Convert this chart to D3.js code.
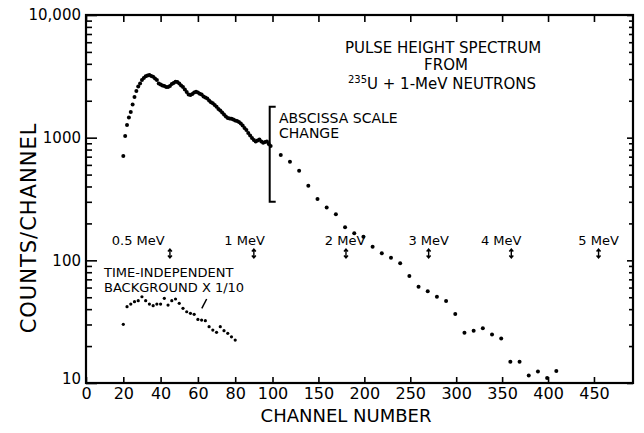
<!DOCTYPE html>
<html><head><meta charset="utf-8">
<script src="https://cdn.jsdelivr.net/npm/d3@7"></script>
<style>
body{margin:0;background:#fff}
svg{display:block;font-family:"DejaVu Sans",sans-serif}
</style></head><body>
<svg id="chart" width="644" height="433"></svg>
<script>
// ---- data ----
const spectrumLowChannels = [20,21,22,23,24,25,26,27,28,29,30,31,32,33,34,35,36,37,38,39,40,41,42,43,44,45,46,47,48,49,50,51,52,53,54,55,56,57,58,59,60,61,62,63,64,65,66,67,68,69,70,71,72,73,74,75,76,77,78,79,80,81,82,83,84,85,86,87,88,89,90,91,92,93,94,95,96,97,98,99];
const spectrumLowCounts = [708,1030,1268,1463,1618,1867,2143,2400,2608,2760,2946,3060,3160,3215,3236,3177,3135,3032,2946,2760,2710,2660,2634,2584,2584,2634,2735,2786,2858,2840,2760,2660,2584,2466,2355,2246,2225,2265,2333,2367,2333,2285,2246,2163,2123,2084,2006,1940,1905,1845,1787,1711,1663,1602,1543,1486,1449,1436,1425,1405,1378,1366,1340,1303,1255,1197,1153,1090,1040,993,955,929,947,965,929,908,920,929,887,855];
const spectrumHighChannels = [109,119,129,139,149,159,169,179,189,199,209,219,229,239,249,259,269,279,289,299,309,319,329,339,349,359,369,379,389,399,409];
const spectrumHighCounts = [721,637,537,405,316,270,237,186,166,156,129,114,105,94.5,74.5,61.0,55.9,50.5,46.6,36.5,25.7,26.7,27.9,24.9,23.1,14.9,14.9,11.5,12.4,11.0,12.5];
const backgroundChannels = [20,22,24,26,28,30,32,34,36,38,40,42,44,46,48,50,52,54,56,58,60,62,64,66,68,70,72,74,76,78,80];
const backgroundCounts = [30.1,41.9,44.0,46.0,46.9,50.5,46.9,44.0,42.7,44.0,44.0,49.0,43.2,46.9,48.4,44.6,40.6,38.1,37.0,36.3,33.0,32.6,32.2,28.8,27.0,25.9,28.8,26.7,25.4,23.8,22.4];
const xTickValues = [0,20,40,60,80,100,150,200,250,300,350,400,450];
const yTickValues = [10,100,1000,10000];
const yTickLabels = ["10","100","1000","10,000"];
const energyLabels = ["0.5 MeV","1 MeV","2 MeV","3 MeV","4 MeV","5 MeV"];
const energyLabelChannels = [28,85,179,270,349,455];
const energyMarkerChannels = [45,90,180,270,360,455];
const scaleChangeChannel = 98.5;
const scaleChangeCounts = [300,1790];
const backgroundLeader = [[64.7,48.4],[62.1,40.6]];

// ---- layout ----
const m = {left:86, right:633, top:15, bottom:383};
const svg = d3.select("#chart");
const x = d3.scaleLinear().domain([0,100,492.5]).range([m.left,272.5,m.right]);
const y = d3.scaleLog().domain([10,10000]).range([m.bottom,m.top]);
const minorY = [];
[10,100,1000].forEach(k => { for (let d=2; d<=9; d++) minorY.push(k*d); });

const FONT = "DejaVu Sans";

function styleAxis(g, fs){
  g.attr("font-family",FONT).attr("font-size",fs);
  g.select(".domain").remove();
  g.selectAll(".tick line").attr("stroke","#000").attr("stroke-width",1.6);
  g.selectAll(".tick text").attr("fill","#000");
}

// bottom axis
const gx = svg.append("g").attr("transform",`translate(0,${m.bottom})`)
  .call(d3.axisBottom(x).tickValues(xTickValues).tickSize(-6).tickPadding(5).tickFormat(d3.format("d")));
styleAxis(gx,16);
// top axis
const gt = svg.append("g").attr("transform",`translate(0,${m.top})`)
  .call(d3.axisTop(x).tickValues(xTickValues).tickSize(-7).tickFormat(""));
styleAxis(gt,10);
// left axis (major + minor)
const gy = svg.append("g").attr("transform",`translate(${m.left},0)`)
  .call(d3.axisLeft(y).tickValues(yTickValues).tickSize(-11).tickPadding(5).tickFormat((d,i)=>yTickLabels[i]));
styleAxis(gy,15);
gy.selectAll(".tick text").filter(d=>d===10).attr("dy","0.0em");
const gym = svg.append("g").attr("transform",`translate(${m.left},0)`)
  .call(d3.axisLeft(y).tickValues(minorY).tickSize(-6).tickFormat(""));
styleAxis(gym,10);
// right axis (major + minor)
const gr = svg.append("g").attr("transform",`translate(${m.right},0)`)
  .call(d3.axisRight(y).tickValues(yTickValues).tickSize(-6).tickFormat(""));
styleAxis(gr,10);
const grm = svg.append("g").attr("transform",`translate(${m.right},0)`)
  .call(d3.axisRight(y).tickValues(minorY).tickSize(-4).tickFormat(""));
styleAxis(grm,10);

// frame
svg.append("rect").attr("x",m.left).attr("y",m.top)
  .attr("width",m.right-m.left).attr("height",m.bottom-m.top)
  .attr("fill","none").attr("stroke","#000").attr("stroke-width",2.2);

// spectrum dots
svg.append("g").selectAll("circle")
  .data(d3.zip(spectrumLowChannels, spectrumLowCounts))
  .join("circle").attr("cx",d=>x(d[0])).attr("cy",d=>y(d[1])).attr("r",2).attr("fill","#000");
svg.append("g").selectAll("circle")
  .data(d3.zip(spectrumHighChannels, spectrumHighCounts))
  .join("circle").attr("cx",d=>x(d[0])).attr("cy",d=>y(d[1])).attr("r",2).attr("fill","#000");
// background dots
svg.append("g").selectAll("circle")
  .data(d3.zip(backgroundChannels, backgroundCounts))
  .join("circle").attr("cx",d=>x(d[0])).attr("cy",d=>y(d[1])).attr("r",1.6).attr("fill","#000");

// scale-change bracket
{
  const bx = x(scaleChangeChannel), y0 = y(scaleChangeCounts[1]), y1 = y(scaleChangeCounts[0]);
  svg.append("path").attr("d",`M${bx+6},${y0} H${bx} V${y1} H${bx+6}`)
    .attr("fill","none").attr("stroke","#000").attr("stroke-width",2);
}
// background leader line
svg.append("line")
  .attr("x1",x(backgroundLeader[0][0])).attr("y1",y(backgroundLeader[0][1]))
  .attr("x2",x(backgroundLeader[1][0])).attr("y2",y(backgroundLeader[1][1]))
  .attr("stroke","#000").attr("stroke-width",1.5);

// energy markers
const eg = svg.append("g").attr("font-family",FONT).attr("font-size",13).attr("fill","#000");
energyLabels.forEach((t,i)=>{
  eg.append("text").attr("x",x(energyLabelChannels[i])).attr("y",245).attr("text-anchor","middle").text(t);
  const mx = x(energyMarkerChannels[i]), a = 249, b = 258;
  eg.append("path").attr("d",`M${mx},${a} V${b} M${mx-2},${a+2.5} L${mx},${a} L${mx+2},${a+2.5} M${mx-2},${b-2.5} L${mx},${b} L${mx+2},${b-2.5}`)
    .attr("fill","none").attr("stroke","#000").attr("stroke-width",1.4);
});

// annotations
const ann = svg.append("g").attr("font-family",FONT).attr("fill","#000");
const t1 = ann.append("g").attr("font-size",15).attr("text-anchor","middle");
t1.append("text").attr("x",443).attr("y",53).text("PULSE HEIGHT SPECTRUM");
t1.append("text").attr("x",446).attr("y",70).text("FROM");
const l3 = t1.append("text").attr("x",442).attr("y",89);
l3.append("tspan").attr("font-size",10).attr("dy",-6).text("235");
l3.append("tspan").attr("dy",6).text("U + 1-MeV NEUTRONS");

const t2 = ann.append("g").attr("font-size",14);
t2.append("text").attr("x",279).attr("y",123).text("ABSCISSA SCALE");
t2.append("text").attr("x",279).attr("y",138).text("CHANGE");

const t3 = ann.append("g").attr("font-size",13);
t3.append("text").attr("x",104).attr("y",277).text("TIME-INDEPENDENT");
t3.append("text").attr("x",104).attr("y",292).text("BACKGROUND X 1/10");

// axis titles
ann.append("text").attr("x",346).attr("y",422).attr("text-anchor","middle")
  .attr("font-size",18).text("CHANNEL NUMBER");
ann.append("text").attr("transform","translate(36,228) rotate(-90)").attr("text-anchor","middle")
  .attr("font-size",21).attr("letter-spacing",1).text("COUNTS/CHANNEL");
</script>
</body></html>
